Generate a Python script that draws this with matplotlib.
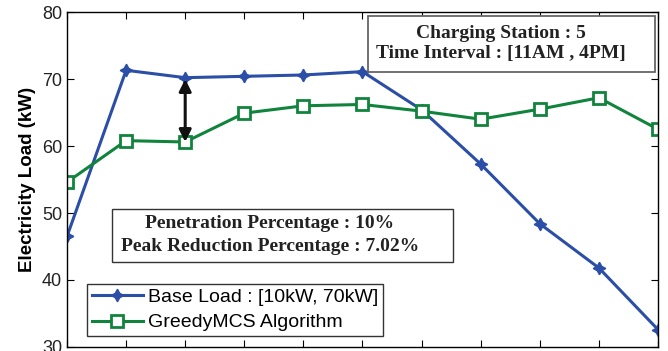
import numpy as np
import matplotlib
matplotlib.use("Agg")
import matplotlib.pyplot as plt
from matplotlib.patches import Rectangle

# hourly slots across the charging window
slots = list(range(11))
base_load = [46.5, 71.3, 70.2, 70.4, 70.6, 71.1, 65.4, 57.3, 48.4, 41.8, 32.6]
greedy_mcs = [54.6, 60.8, 60.6, 64.9, 66.0, 66.2, 65.2, 64.0, 65.5, 67.2, 62.5]

blue = "#2b4ea6"
green = "#10843c"

fig = plt.figure(figsize=(6.68, 3.51), dpi=100)
ax = fig.add_axes([0.1003, 0.0114, 0.8847, 0.9544])

ax.plot(slots, base_load, color=blue, lw=2.2, marker=(4, 1, 0), ms=9,
        mfc=blue, mec=blue, label="Base Load : [10kW, 70kW]")
ax.plot(slots, greedy_mcs, color=green, lw=2.2, marker="s", ms=9,
        mfc="white", mec=green, mew=2, label="GreedyMCS Algorithm")

# gap between the two curves at slot 2
ax.annotate("", xy=(2, greedy_mcs[2]), xytext=(2, base_load[2]),
            arrowprops=dict(arrowstyle="<|-|>", color="#111111", lw=2.2,
                            mutation_scale=18, shrinkA=1, shrinkB=0))

ax.set_xlim(0, 10)
ax.set_ylim(30, 80)
ax.set_xticks(slots)
ax.set_xticklabels([])
ax.set_yticks([30, 40, 50, 60, 70, 80])
ax.tick_params(direction="in", top=True, right=True, length=5,
               labelsize=13, colors="black")
for lbl in ax.get_yticklabels():
    lbl.set_color("#222222")
    lbl.set_family("Liberation Sans")
ax.set_ylabel("Electricity Load (kW)", fontsize=13.5, fontweight="bold",
              family="Liberation Sans", labelpad=4)
for s in ax.spines.values():
    s.set_linewidth(1)

serif = dict(family="Liberation Serif", fontweight="bold", fontsize=14,
             color="#222222", ha="center", va="center",
             transform=ax.transAxes, zorder=6)

# info boxes
ax.add_patch(Rectangle((0.509, 0.821), 0.486, 0.167, transform=ax.transAxes,
                       fc="white", ec="#666666", lw=1.3, zorder=5))
ax.text(0.734, 0.905, "Charging Station : 5\nTime Interval : [11AM , 4PM]",
        linespacing=1.25, **serif)

ax.add_patch(Rectangle((0.076, 0.254), 0.577, 0.158, transform=ax.transAxes,
                       fc="white", ec="#333333", lw=1, zorder=5))
ax.text(0.343, 0.334, "Penetration Percentage : 10%\nPeak Reduction Percentage : 7.02%",
        linespacing=1.45, **serif)

leg = ax.legend(loc="lower left", bbox_to_anchor=(0.034, 0.032),
                prop=dict(family="Liberation Sans", size=14),
                frameon=True, fancybox=False, edgecolor="black",
                handlelength=2.6, borderpad=0.25, labelspacing=0.4,
                handletextpad=0.3, borderaxespad=0)
leg.get_frame().set_linewidth(1)
leg.set_zorder(7)

fig.savefig("out.png", dpi=100)
